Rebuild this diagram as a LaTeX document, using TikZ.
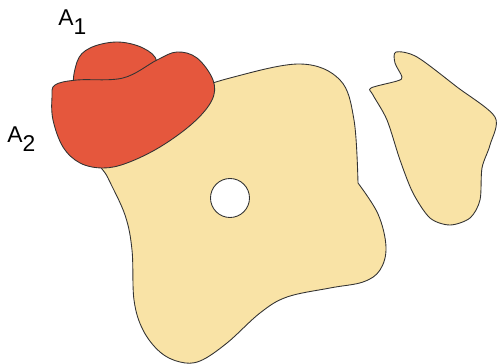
\documentclass[tikz,border=0pt]{standalone}
\usepackage{fontspec}
\setmainfont{Liberation Sans}
\usepackage{tikz}
\definecolor{regionred}{HTML}{E5573D}
\definecolor{regionsand}{HTML}{F9E3A6}
\definecolor{edgegray}{HTML}{333333}

\begin{document}
\begin{tikzpicture}[
    x=0.02cm, y=-0.02cm,
    blob/.style={draw=edgegray, line width=0.5pt, fill=regionsand},
    redblob/.style={draw=edgegray, line width=0.5pt, fill=regionred},
    hole/.style={draw=edgegray, line width=0.5pt, fill=white},
    lbl/.style={font=\fontsize{13}{15}\selectfont, inner sep=0pt, anchor=base west}
]
\useasboundingbox (0,0) rectangle (497,364);
% main region with its hole
\draw[blob] plot[smooth, tension=0.6] coordinates {
    (150,110) (180,95) (230,78) (300,64) (340,80) (354,120) (358,183)}
    -- plot[smooth, tension=0.6] coordinates {
    (358,183) (378,214) (386,247) (380,270) (363,282) (330,288) (287,297)
    (260,313) (227,343) (200,361) (180,362) (160,352) (143,330) (134,300)
    (132,250) (125,215) (108,178) (100,160) (120,130)} -- cycle;
\draw[hole] (230,198) circle[radius=19.5];
% detached region
\draw[blob] plot[smooth cycle, tension=0.5] coordinates {
    (371,88) (397,81) (402,77) (395,63) (396,52) (417,57) (457,87)
    (495,117) (490,145) (482,168) (480,200) (470,218) (450,225) (430,218)
    (413,193) (400,160) (387,120) (373,95)};
% overlapping red regions
\draw[redblob] plot[smooth cycle, tension=0.6] coordinates {
    (76,90) (77,62) (90,48) (117,42) (143,48) (157,62) (150,88) (110,92)};
\draw[redblob] plot[smooth cycle, tension=0.6] coordinates {
    (55,85) (77,80) (123,78) (157,60) (177,52) (197,58) (213,80) (212,100)
    (193,123) (160,147) (127,163) (103,168) (80,163) (63,147) (53,120) (52,97)};
% labels
\node[lbl] (aone) at (58,26) {A\raisebox{-5pt}{1}};
\node[lbl] (atwo) at (7,143) {A\raisebox{-5pt}{2}};
\end{tikzpicture}
\end{document}
